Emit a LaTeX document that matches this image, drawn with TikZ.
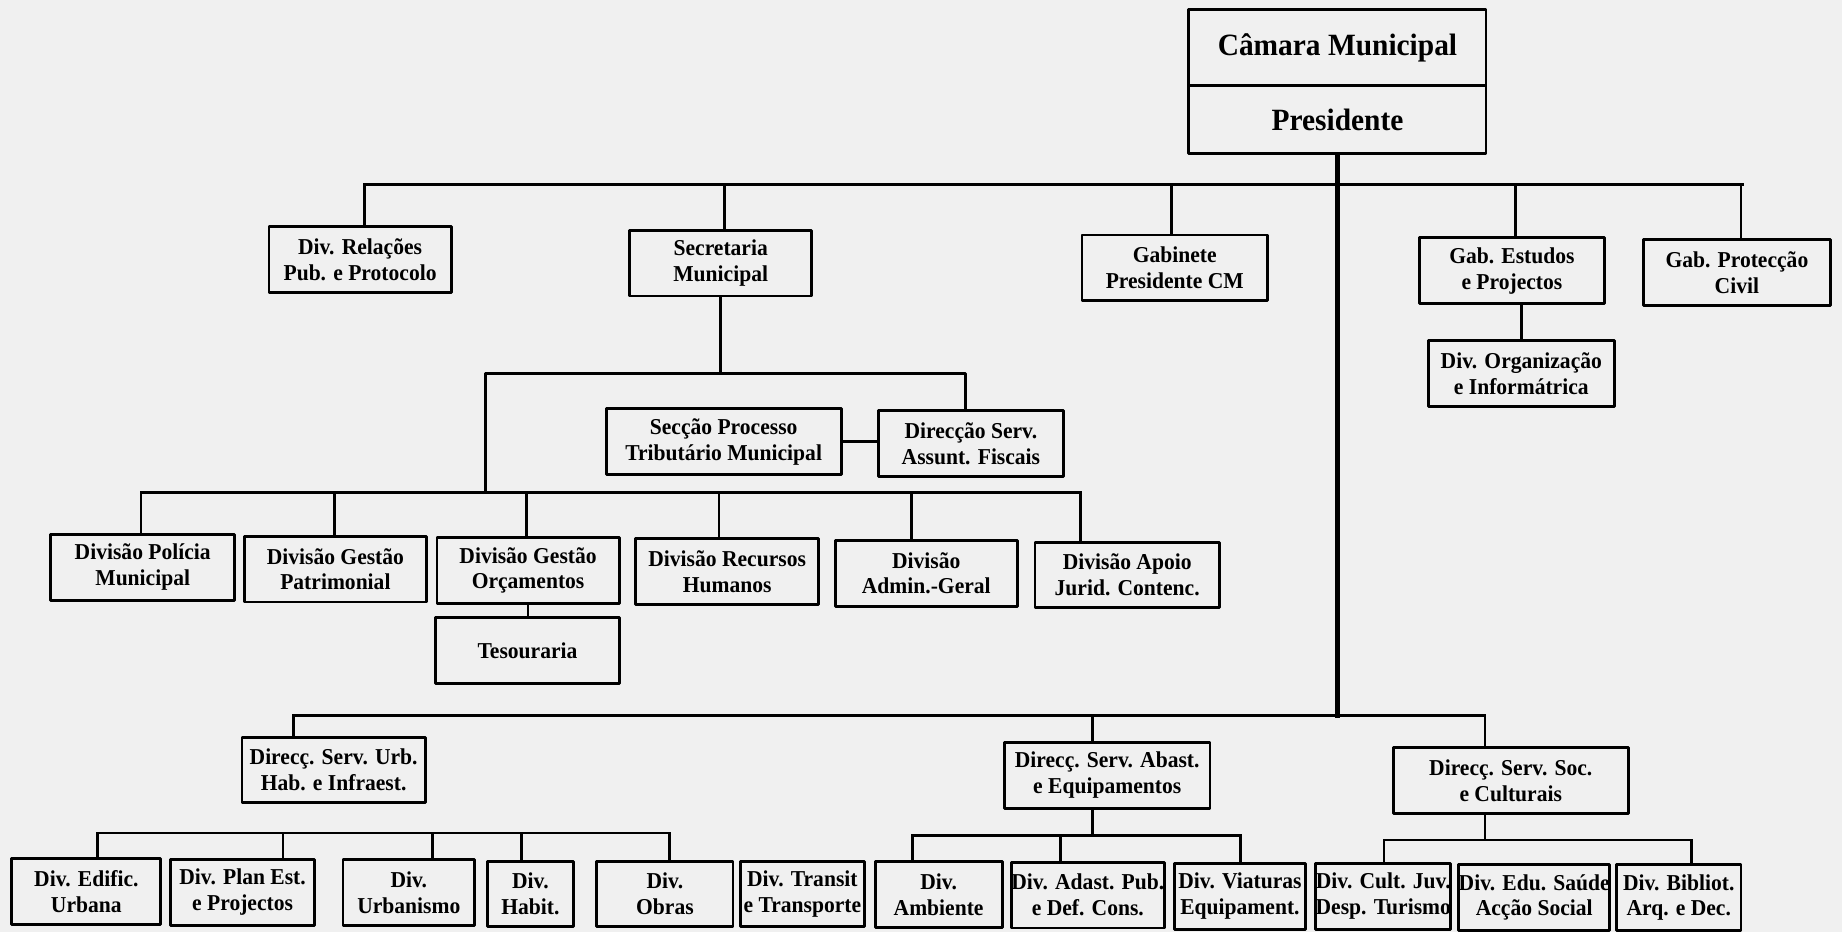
\documentclass[tikz,border=0pt]{standalone}
\usepackage{fontspec}
\setmainfont{Liberation Serif}[FakeStretch=0.95]
\usetikzlibrary{positioning}
\tikzset{
	caixa/.style={draw, line width=1.4pt, minimum height=1.12cm, inner sep=0pt, align=center,
		font=\fontsize{11}{12.5}\selectfont\bfseries},
	topo/.style={caixa, minimum width=5.06cm, font=\fontsize{15}{16}\selectfont\bfseries},
	liga/.style={line width=1.3pt},
}
\begin{document}
\begin{tikzpicture}[x=0.02cm, y=-0.02cm, line join=round, line cap=rect]
		\fill[black!6] (0,0) rectangle (1568,793);
		\useasboundingbox (0,0) rectangle (1568,793);
		% presidencia
		\node[topo, minimum height=1.3cm] (camara) at (1138.5,40.5) {Câmara Municipal};
		\node[topo, minimum height=1.16cm] (pres) at (1138.5,102) {Presidente};
		% primeiro nivel
		\node[caixa, minimum width=3.1cm] (relacoes) at (306.5,221) {Div. Relações\\Pub. e Protocolo};
		\node[caixa, minimum width=3.1cm] (secret) at (613.5,224) {Secretaria\\Municipal};
		\node[caixa, minimum width=3.16cm] (gabpres) at (1000,228) {Gabinete\\Presidente CM};
		\node[caixa, minimum width=3.16cm] (gabest) at (1287,230.5) {Gab. Estudos\\e Projectos};
		\node[caixa, minimum width=3.18cm] (gabprot) at (1478.5,232) {Gab. Protecção\\Civil};
		\node[caixa, minimum width=3.16cm] (divorg) at (1295,318) {Div. Organização\\e Informátrica};
		% secretaria
		\node[caixa, minimum width=4cm] (seccao) at (616,376) {Secção Processo\\Tributário Municipal};
		\node[caixa, minimum width=3.14cm] (direccao) at (826.5,377.5) {Direcção Serv.\\Assunt. Fiscais};
		\node[caixa, minimum width=3.14cm] (policia) at (121.5,483) {Divisão Polícia\\Municipal};
		\node[caixa, minimum width=3.1cm] (patrim) at (285.5,484.5) {Divisão Gestão\\Patrimonial};
		\node[caixa, minimum width=3.1cm] (orcam) at (449.5,485.5) {Divisão Gestão\\Orçamentos};
		\node[caixa, minimum width=3.12cm] (recursos) at (619,486.5) {Divisão Recursos\\Humanos};
		\node[caixa, minimum width=3.1cm] (admin) at (788.5,488) {Divisão\\Admin.-Geral};
		\node[caixa, minimum width=3.14cm] (apoio) at (959.5,489.5) {Divisão Apoio\\Jurid. Contenc.};
		\node[caixa, minimum width=3.12cm] (tesour) at (449,554) {Tesouraria};
		% direccoes de servicos
		\node[caixa, minimum width=3.12cm] (urb) at (284,655.5) {Direcç. Serv. Urb.\\Hab. e Infraest.};
		\node[caixa, minimum width=3.5cm] (abast) at (942.5,660) {Direcç. Serv. Abast.\\e Equipamentos};
		\node[caixa, minimum width=4cm] (soc) at (1286,664.5) {Direcç. Serv. Soc.\\e Culturais};
		% divisoes
		\node[caixa, minimum width=2.54cm] (edific) at (73.5,759) {Div. Edific.\\Urbana};
		\node[caixa, minimum width=2.46cm] (plan) at (206.5,759.5) {Div. Plan Est.\\e Projectos};
		\node[caixa, minimum width=2.24cm] (urbanismo) at (348,760) {Div.\\Urbanismo};
		\node[caixa, minimum width=1.46cm] (habit) at (451.5,761) {Div.\\Habit.};
		\node[caixa, minimum width=2.32cm] (obras) at (566,761) {Div.\\Obras};
		\node[caixa, minimum width=2.12cm] (transit) at (683,761) {Div. Transit\\e Transporte};
		\node[caixa, minimum width=2.16cm] (ambiente) at (799,761.5) {Div.\\Ambiente};
		\node[caixa, minimum width=2.48cm] (adast) at (926,762) {Div. Adast. Pub.\\e Def. Cons.};
		\node[caixa, minimum width=2.22cm] (viaturas) at (1055.5,763) {Div. Viaturas\\Equipament.};
		\node[caixa, minimum width=2.3cm] (cultjuv) at (1177.5,763) {Div. Cult. Juv.\\Desp. Turismo};
		\node[caixa, minimum width=2.56cm] (edu) at (1306,764) {Div. Edu. Saúde\\Acção Social};
		\node[caixa, minimum width=2.12cm] (bibliot) at (1429,764) {Div. Bibliot.\\Arq. e Dec.};
		% ligacoes
		\draw[line width=2.6pt] (pres.south) -- (1138.5,609);
		\draw[liga] (310,157) -- (1483,157);
		\foreach \n/\x in {relacoes/310, secret/617, gabpres/997, gabest/1290, gabprot/1482}{
			\draw[liga] (\x,157) -- (\x,157 |- \n.north);
		}
		\draw[liga] (divorg.north) -- (divorg.north |- gabest.south);
		\draw[liga] (secret.south) -- (secret.south |- 0,318);
		\draw[liga] (413,419) -- (413,318) -- (822,318) -- (822,318 |- direccao.north);
		\draw[liga] (seccao.east) -- (direccao.west |- seccao.east);
		\draw[liga] (120,419) -- (920,419);
		\foreach \n/\x in {policia/120, patrim/285, orcam/448, recursos/612, admin/776, apoio/920}{
			\draw[liga] (\x,419) -- (\x,419 |- \n.north);
		}
		\draw[liga] (orcam.south) -- (orcam.south |- tesour.north);
		\draw[liga] (250,609) -- (1264,609);
		\foreach \n/\x in {urb/250, abast/930, soc/1264}{
			\draw[liga] (\x,609) -- (\x,609 |- \n.north);
		}
		\draw[liga] (83,709) -- (570,709);
		\foreach \n/\x in {edific/83, plan/241, urbanismo/368, habit/444, obras/570}{
			\draw[liga] (\x,709) -- (\x,709 |- \n.north);
		}
		\draw[liga] (930,0 |- abast.south) -- (930,711);
		\draw[liga] (777,711) -- (1056,711);
		\foreach \n/\x in {ambiente/777, adast/903, viaturas/1056}{
			\draw[liga] (\x,711) -- (\x,711 |- \n.north);
		}
		\draw[liga] (1264,0 |- soc.south) -- (1264,715);
		\draw[liga] (1178,715) -- (1440,715);
		\foreach \n/\x in {cultjuv/1178, bibliot/1440}{
			\draw[liga] (\x,715) -- (\x,715 |- \n.north);
		}
\end{tikzpicture}
\end{document}
